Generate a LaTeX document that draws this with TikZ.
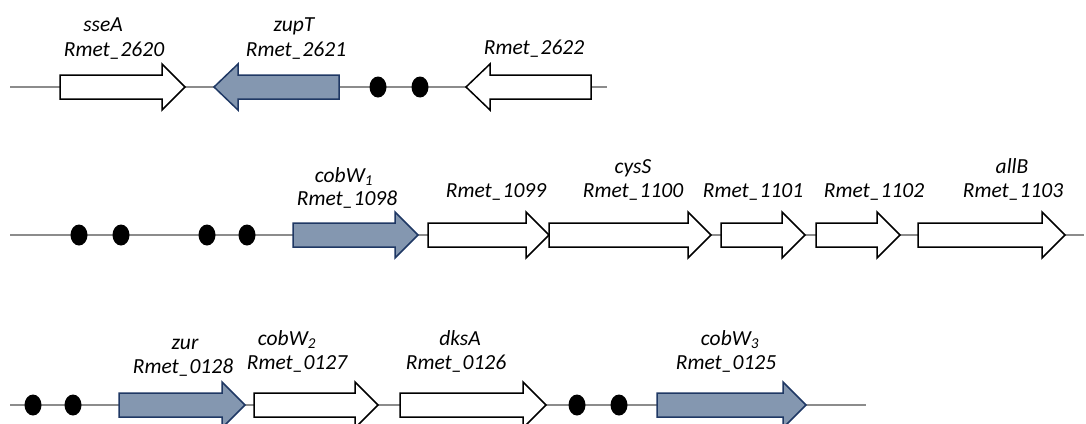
\documentclass[tikz,border=0pt]{standalone}
\usepackage{fontspec}
\setmainfont{Carlito}
\definecolor{linegray}{HTML}{8C8C8C}
\definecolor{bluegray}{HTML}{8497B0}
\definecolor{darkblue}{HTML}{1F3864}
\tikzset{
  chrom/.style={draw=linegray, line width=1.3pt},
  geneW/.style={draw=black, fill=white, line width=1.5pt, line join=miter},
  geneB/.style={draw=darkblue, fill=bluegray, line width=1.5pt, line join=miter},
  blob/.style={fill=black},
  lab/.style={font=\itshape\fontsize{21.5}{22}\selectfont, anchor=base, inner sep=0pt}
}
% right-pointing gene: tail x1, tip x2, y, style
\newcommand\geneRt[4]{%
  \draw[#4] (#1,#3-12) -- (#2-23,#3-12) -- (#2-23,#3-23) -- (#2,#3) --
    (#2-23,#3+23) -- (#2-23,#3+12) -- (#1,#3+12) -- cycle;}
% left-pointing gene: tip x1, tail x2, y, style
\newcommand\geneLt[4]{%
  \draw[#4] (#2,#3-12) -- (#1+24,#3-12) -- (#1+24,#3-23) -- (#1,#3) --
    (#1+24,#3+23) -- (#1+24,#3+12) -- (#2,#3+12) -- cycle;}
\newcommand\blobat[2]{\fill[blob] (#1,#2) ellipse [x radius=8.5pt, y radius=10.5pt];}
\begin{document}
\begin{tikzpicture}[x=1pt,y=-1pt]
\useasboundingbox (0,0) rectangle (1086,423);
\clip (0,0) rectangle (1086,423);
% ---------- row 1 ----------
\coordinate (r1a) at (10,87);
\coordinate (r1b) at (607,87);
\draw[chrom] (r1a) -- (r1b);
\geneRt{60}{185}{87}{geneW}
\geneLt{214}{339}{87}{geneB}
\blobat{378}{87}
\blobat{420}{87}
\geneLt{466}{591}{87}{geneW}
\node[lab] (t1) at (103,31) {sseA};
\node[lab] (t2) at (114,56) {Rmet\_2620};
\node[lab] (t3) at (294,31) {zupT};
\node[lab] (t4) at (296,56) {Rmet\_2621};
\node[lab] (t5) at (534,54) {Rmet\_2622};
% ---------- row 2 ----------
\coordinate (r2a) at (10,235);
\coordinate (r2b) at (1084,235);
\draw[chrom] (r2a) -- (r2b);
\blobat{79}{235}
\blobat{121}{235}
\blobat{207}{235}
\blobat{247}{235}
\geneRt{293}{418}{235}{geneB}
\geneRt{428}{549}{235}{geneW}
\geneRt{549}{711}{235}{geneW}
\geneRt{721}{805}{235}{geneW}
\geneRt{816}{900}{235}{geneW}
\geneRt{918}{1065}{235}{geneW}
\node[lab] (u1) at (344,182) {cobW\textsubscript{1}};
\node[lab] (u2) at (347,205) {Rmet\_1098};
\node[lab] (u3) at (496,197) {Rmet\_1099};
\node[lab] (u4) at (633,173) {cysS};
\node[lab] (u5) at (633,197) {Rmet\_1100};
\node[lab] (u6) at (753,197) {Rmet\_1101};
\node[lab] (u7) at (874,197) {Rmet\_1102};
\node[lab] (u8) at (1012,173) {allB};
\node[lab] (u9) at (1013,197) {Rmet\_1103};
% ---------- row 3 ----------
\coordinate (r3a) at (10,405);
\coordinate (r3b) at (866,405);
\draw[chrom] (r3a) -- (r3b);
\blobat{33}{405}
\blobat{73}{405}
\geneRt{119}{245}{405}{geneB}
\geneRt{254}{378}{405}{geneW}
\geneRt{400}{546}{405}{geneW}
\blobat{577}{405}
\blobat{619}{405}
\geneRt{657}{806}{405}{geneB}
\node[lab] (v1) at (185,349) {zur};
\node[lab] (v2) at (183,373) {Rmet\_0128};
\node[lab] (v3) at (287,345) {cobW\textsubscript{2}};
\node[lab] (v4) at (297,369) {Rmet\_0127};
\node[lab] (v5) at (460,345) {dksA};
\node[lab] (v6) at (456,369) {Rmet\_0126};
\node[lab] (v7) at (730,345) {cobW\textsubscript{3}};
\node[lab] (v8) at (726,369) {Rmet\_0125};
\end{tikzpicture}
\end{document}
